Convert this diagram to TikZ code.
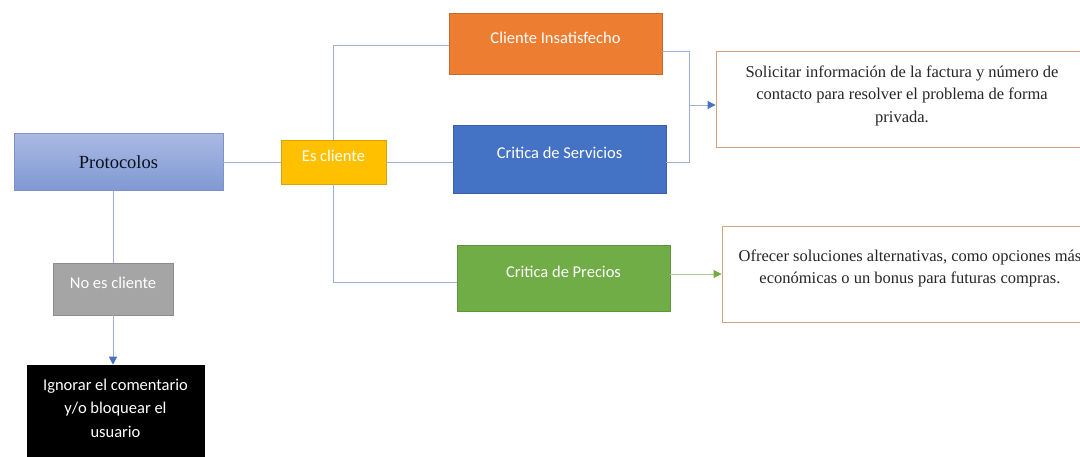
\documentclass[tikz,border=0pt]{standalone}
\usepackage{fontspec}
\setmainfont{Liberation Serif}
\setsansfont{Carlito}
\usepackage{xcolor}
\usepackage{tikz}
\usetikzlibrary{arrows.meta}
\definecolor{protoTop}{HTML}{A9B9E2}
\definecolor{protoBot}{HTML}{8098D3}
\definecolor{protoLine}{HTML}{7E92C9}
\definecolor{gold}{HTML}{FFC000}
\definecolor{orange}{HTML}{ED7D31}
\definecolor{blue}{HTML}{4472C4}
\definecolor{green}{HTML}{70AD47}
\definecolor{grey}{HTML}{A5A5A5}
\definecolor{wire}{HTML}{9DB0D6}
\definecolor{greenwire}{HTML}{A9D18E}
\definecolor{frame}{HTML}{D2A37C}
\tikzset{
  link/.style={draw=wire, line width=0.9pt},
  arrowlink/.style={link, -{Triangle[width=8pt,length=8pt,color=blue]}},
  greenlink/.style={draw=greenwire, line width=0.9pt, -{Triangle[width=8pt,length=8pt,color=green]}},
  colbox/.style={fill=#1, draw=#1!85!black, line width=0.6pt, text=white,
    font=\sffamily\fontsize{16.5}{20}\selectfont, inner sep=0pt},
  oneline/.style={text height=11pt, text depth=11pt},
  textbox/.style={draw=frame, line width=0.9pt, fill=white, align=center, inner sep=0pt,
    font=\fontsize{16.5}{22.5}\selectfont, text=black!85}
}

\begin{document}
\begin{tikzpicture}[x=1pt, y=-1pt]
  % pixel grid: 1 unit = 1 px, y going down
  \useasboundingbox (0,0) rectangle (1080,457);

  % main branch
  \node[draw=protoLine, line width=0.6pt, top color=protoTop, bottom color=protoBot,
        minimum width=209pt, minimum height=57pt, inner sep=0pt,
        font=\fontsize{18.5}{22}\selectfont, text=black!85!blue] (proto) at (118.5,162) {Protocolos};
  \node[colbox=gold, oneline, minimum width=105pt, minimum height=44pt] (escli) at (333.5,162) {Es cliente};
  \node[colbox=grey, oneline, minimum width=120pt, minimum height=52pt] (noes) at (113,289) {No es cliente};
  \node[colbox=black, align=center, minimum width=177pt, minimum height=94pt,
        font=\sffamily\fontsize{16.5}{23.5}\selectfont] (ign) at (115.5,412)
        {Ignorar el comentario\\y/o bloquear el\\usuario\\[-15.5pt]};

  % kinds of comment
  \node[colbox=orange, oneline, minimum width=213pt, minimum height=61pt] (insat) at (555.5,43.5) {Cliente Insatisfecho};
  \node[colbox=blue, oneline, minimum width=213pt, minimum height=68pt] (serv) at (559.5,159) {Critica de Servicios};
  \node[colbox=green, oneline, minimum width=213pt, minimum height=66pt] (prec) at (563.5,278) {Critica de Precios};

  % answers (cut at the right edge)
  \node[textbox, minimum width=372pt, minimum height=96pt] (soli) at (902,99)
    {Solicitar información de la factura y número de\\contacto para resolver el problema de forma\\privada.\\[-12pt]};
  \node[textbox, minimum width=376pt, minimum height=96pt] (ofre) at (910,274.5)
    {Ofrecer soluciones alternativas, como opciones más\\económicas o un bonus para futuras compras.\\[-6.5pt]};

  % connectors
  \coordinate (join) at (689,105);
  \draw[link] (proto.east) -- (escli.west);
  \draw[link] (escli.north) |- ([yshift=-2pt]insat.west);
  \draw[link] (escli.east) -- (escli.east -| serv.west);
  \draw[link] (escli.south) |- ([yshift=-4pt]prec.west);
  \draw[link] ([yshift=-8pt]insat.east) -| (join);
  \draw[link] ([yshift=-3pt]serv.east) -| (join);
  \draw[arrowlink] (join) -- (join -| soli.west);
  \draw[greenlink] ([yshift=4pt]prec.east) -- ([yshift=4pt]prec.east -| ofre.west);
  \draw[link] (noes.north |- proto.south) -- (noes.north);
  \draw[arrowlink] (noes.south) -- (noes.south |- ign.north);
\end{tikzpicture}
\end{document}
